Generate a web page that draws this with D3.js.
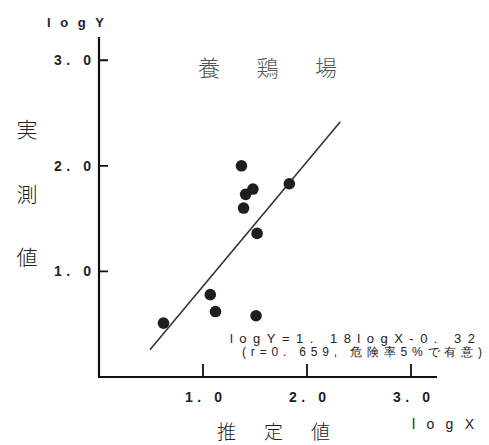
<!DOCTYPE html>
<html>
<head>
<meta charset="utf-8">
<script src="https://cdn.jsdelivr.net/npm/d3@7"></script>
<style>
  body { margin: 0; background: #fff; }
  text { fill: #222; }
  .num { font-family: "Liberation Sans", Arial, sans-serif; font-weight: bold; }
  .jp { font-family: "Noto Sans CJK JP", sans-serif; font-weight: 300; }
</style>
</head>
<body>
<svg id="chart" width="489" height="445"></svg>
<script>
// data (log scale values)
const logX = [1.37, 1.48, 1.41, 1.39, 1.52, 1.83, 1.07, 1.12, 1.51, 0.62];
const logY = [2.00, 1.78, 1.73, 1.60, 1.36, 1.83, 0.78, 0.62, 0.58, 0.51];
const xTicks = [1, 2, 3];
const yTicks = [1, 2, 3];
const tickLabels = ["1. 0", "2. 0", "3. 0"];
const slope = 1.18;
const intercept = -0.32;
const fitRange = [0.49, 2.32];
const title = "養鶏場";
const eqLines = ["logY=1. 18logX-0. 32", "(r=0. 659, 危険率5%で有意)"];

const svg = d3.select('#chart');

const x = d3.scaleLinear().domain([0, 3.25]).range([99, 437]);
const y = d3.scaleLinear().domain([0, 3.22]).range([377, 37]);

// axes: d3 axis for the labels
const xAxis = d3.axisBottom(x)
    .tickValues(xTicks)
    .tickSizeInner(0)
    .tickSizeOuter(0)
    .tickPadding(15)
    .tickFormat((d, i) => tickLabels[i]);

const yAxis = d3.axisLeft(y)
    .tickValues(yTicks)
    .tickSizeInner(0)
    .tickSizeOuter(0)
    .tickPadding(8)
    .tickFormat((d, i) => tickLabels[i]);

const gx = svg.append('g')
    .attr('transform', 'translate(0,' + y(0) + ')')
    .call(xAxis);

const gy = svg.append('g')
    .attr('transform', 'translate(' + x(0) + ',0)')
    .call(yAxis);

[gx, gy].forEach(g => {
    g.selectAll('.domain, .tick line').remove();
    g.selectAll('.tick text')
        .attr('class', 'num')
        .attr('textLength', 37)
        .attr('lengthAdjust', 'spacing')
        .style('font-size', '14px')
        .attr('fill', '#222');
});

// regression line
svg.append('line')
    .attr('x1', x(fitRange[0]))
    .attr('y1', y(slope * fitRange[0] + intercept))
    .attr('x2', x(fitRange[1]))
    .attr('y2', y(slope * fitRange[1] + intercept))
    .attr('stroke', '#333')
    .attr('stroke-width', 1.6);

// points
svg.append('g')
    .selectAll('circle')
    .data(logX.map((d, i) => [d, logY[i]]))
    .enter().append('circle')
    .attr('cx', d => x(d[0]))
    .attr('cy', d => y(d[1]))
    .attr('r', 5.8)
    .attr('fill', '#1e1e1e');

// axis names
svg.append('text')
    .attr('class', 'num')
    .attr('x', 47).attr('y', 27)
    .attr('textLength', 57).attr('lengthAdjust', 'spacing')
    .style('font-size', '13px')
    .text('logY');

svg.append('text')
    .attr('class', 'num')
    .attr('x', 412).attr('y', 429)
    .attr('textLength', 62).attr('lengthAdjust', 'spacing')
    .style('font-size', '14px')
    .style('font-weight', 'normal')
    .text('logX');

// title
svg.append('text')
    .attr('class', 'jp')
    .attr('x', 198).attr('y', 76)
    .attr('textLength', 139).attr('lengthAdjust', 'spacing')
    .style('font-size', '22px')
    .style('fill', '#555')
    .text(title);

// y label (vertical stack)
['実', '測', '値'].forEach((c, i) => {
    svg.append('text')
        .attr('class', 'jp')
        .attr('x', 27).attr('y', [130, 195, 258][i])
        .attr('text-anchor', 'middle')
        .attr('dy', '0.35em')
        .style('font-size', '21px')
        .text(c);
});

// x label
svg.append('text')
    .attr('class', 'jp')
    .attr('x', 217).attr('y', 439)
    .attr('textLength', 113).attr('lengthAdjust', 'spacing')
    .style('font-size', '19px')
    .text('推定値');

// regression equation
svg.append('text')
    .attr('class', 'num')
    .attr('x', 230).attr('y', 343)
    .attr('textLength', 245).attr('lengthAdjust', 'spacing')
    .style('font-size', '13px')
    .style('font-weight', 'normal')
    .text(eqLines[0]);

svg.append('text')
    .attr('class', 'num')
    .attr('x', 242).attr('y', 356)
    .attr('textLength', 240).attr('lengthAdjust', 'spacing')
    .style('font-size', '12px')
    .style('font-weight', 'normal')
    .text(eqLines[1]);

// axis frame (L shape) and tick marks as single paths, drawn last on top
const frame = d3.path();
frame.moveTo(x(0), y.range()[1]);
frame.lineTo(x(0), y(0));
frame.lineTo(x.range()[1], y(0));

svg.append('path')
    .attr('d', frame.toString())
    .attr('fill', 'none')
    .attr('stroke', '#111')
    .attr('stroke-width', 2.2);

const ticks = d3.path();
xTicks.forEach(d => { ticks.moveTo(x(d), y(0)); ticks.lineTo(x(d), y(0) - 13); });
yTicks.forEach(d => { ticks.moveTo(x(0), y(d)); ticks.lineTo(x(0) + 9, y(d)); });

svg.append('path')
    .attr('d', ticks.toString())
    .attr('fill', 'none')
    .attr('stroke', '#111')
    .attr('stroke-width', 1.8);
</script>
</body>
</html>
